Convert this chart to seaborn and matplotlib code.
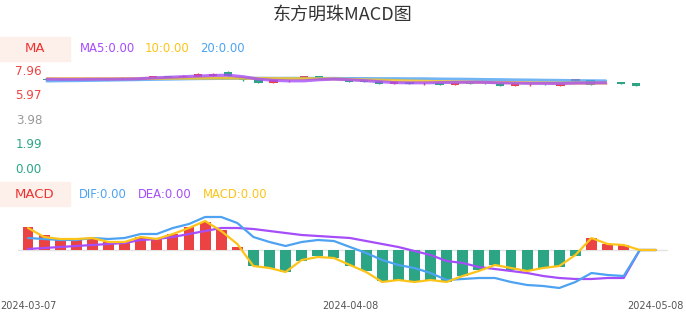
import numpy as np
import pandas as pd
import matplotlib
matplotlib.use("Agg")
import matplotlib.pyplot as plt
from matplotlib.patches import Rectangle
import seaborn as sns

# ---------------- data ----------------
dates = ["2024-03-07", "2024-04-08", "2024-05-08"]
date_idx = [0, 20, 39]

opens  = [7.35, 7.25, 7.28, 7.30, 7.28, 7.32, 7.30, 7.40, 7.55, 7.44,
          7.50, 7.52, 7.90, 7.36, 7.30, 7.00, 7.14, 7.40, 7.52, 7.35,
          7.22, 7.20, 7.14, 6.92, 7.06, 6.95, 6.98, 6.85, 6.95, 6.93,
          6.98, 6.76, 6.88, 6.90, 6.76, 7.14, 7.22, 6.96, 7.04, 6.96]
closes = [7.22, 7.28, 7.30, 7.28, 7.32, 7.30, 7.35, 7.52, 7.42, 7.58,
          7.68, 7.75, 7.52, 7.20, 6.98, 7.28, 7.15, 7.52, 7.40, 7.33,
          7.06, 7.08, 6.92, 7.14, 6.92, 6.97, 6.84, 6.98, 6.93, 6.90,
          6.76, 6.98, 6.92, 6.88, 6.88, 7.30, 6.84, 7.00, 6.92, 6.76]
highs  = [7.38, 7.32, 7.33, 7.34, 7.35, 7.50, 7.37, 7.54, 7.57, 7.60,
          7.78, 7.78, 7.96, 7.40, 7.32, 7.32, 7.20, 7.54, 7.55, 7.37,
          7.24, 7.22, 7.16, 7.16, 7.08, 7.06, 7.00, 7.00, 6.97, 6.95,
          7.00, 7.00, 6.98, 6.92, 6.90, 7.32, 7.24, 7.02, 7.06, 6.98]
lows   = [7.20, 7.22, 7.25, 7.26, 7.27, 7.28, 7.29, 7.38, 7.40, 7.42,
          7.48, 7.50, 7.50, 7.15, 6.95, 6.95, 7.08, 7.38, 7.38, 7.31,
          7.04, 7.06, 6.90, 6.90, 6.90, 6.84, 6.82, 6.83, 6.91, 6.88,
          6.74, 6.74, 6.76, 6.86, 6.74, 7.12, 6.82, 6.94, 6.90, 6.74]

ma5  = [7.30, 7.29, 7.29, 7.30, 7.30, 7.31, 7.33, 7.40, 7.45, 7.50,
        7.55, 7.60, 7.62, 7.50, 7.30, 7.20, 7.16, 7.16, 7.25, 7.30,
        7.25, 7.18, 7.10, 7.02, 7.00, 7.00, 7.02, 7.04, 7.05, 7.04,
        7.00, 6.98, 6.96, 6.96, 6.95, 6.98, 6.99, 7.00, np.nan, np.nan]
ma10 = [7.34, 7.34, 7.34, 7.34, 7.34, 7.34, 7.35, 7.36, 7.37, 7.38,
        7.38, 7.39, 7.39, 7.38, 7.36, 7.35, 7.34, 7.34, 7.33, 7.32,
        7.28, 7.25, 7.22, 7.19, 7.16, 7.13, 7.10, 7.08, 7.06, 7.04,
        7.03, 7.02, 7.00, 6.99, 6.98, 6.98, 6.98, 6.98, np.nan, np.nan]
ma20 = [7.15, 7.17, 7.18, 7.20, 7.22, 7.24, 7.26, 7.28, 7.30, 7.32,
        7.34, 7.35, 7.36, 7.37, 7.37, 7.37, 7.37, 7.37, 7.36, 7.36,
        7.35, 7.35, 7.34, 7.34, 7.33, 7.33, 7.31, 7.30, 7.29, 7.27,
        7.26, 7.24, 7.23, 7.21, 7.20, 7.18, 7.17, 7.16, np.nan, np.nan]

hist = [0.115, 0.075, 0.06, 0.055, 0.06, 0.04, 0.04, 0.065, 0.06, 0.08,
        0.115, 0.14, 0.10, 0.015, -0.08, -0.09, -0.11, -0.055, -0.03, -0.04,
        -0.08, -0.105, -0.155, -0.15, -0.155, -0.15, -0.16, -0.13, -0.10, -0.075,
        -0.10, -0.105, -0.09, -0.085, -0.03, 0.06, 0.03, 0.025, 0.0, 0.0]
macd_line = [0.11, 0.065, 0.055, 0.055, 0.06, 0.04, 0.04, 0.065, 0.055, 0.08,
             0.11, 0.145, 0.095, 0.03, -0.08, -0.09, -0.11, -0.05, -0.035, -0.04,
             -0.075, -0.11, -0.16, -0.15, -0.16, -0.15, -0.16, -0.13, -0.105, -0.075,
             -0.09, -0.105, -0.09, -0.08, -0.025, 0.06, 0.03, 0.025, 0.0, 0.0]
dif = [0.06, 0.055, 0.05, 0.05, 0.06, 0.055, 0.06, 0.08, 0.08, 0.11,
       0.13, 0.165, 0.165, 0.135, 0.065, 0.04, 0.02, 0.04, 0.05, 0.045,
       0.015, -0.015, -0.05, -0.075, -0.09, -0.115, -0.15, -0.145, -0.14, -0.14,
       -0.16, -0.175, -0.18, -0.19, -0.16, -0.115, -0.125, -0.13, 0.0, 0.0]
dea = [0.005, 0.01, 0.015, 0.02, 0.025, 0.03, 0.035, 0.05, 0.055, 0.065,
       0.08, 0.095, 0.11, 0.11, 0.105, 0.095, 0.085, 0.075, 0.07, 0.065,
       0.06, 0.045, 0.03, 0.015, -0.005, -0.025, -0.055, -0.065, -0.085, -0.095,
       -0.105, -0.115, -0.13, -0.14, -0.145, -0.145, -0.14, -0.14, 0.0, 0.0]

price_ticks = [0.00, 1.99, 3.98, 5.97, 7.96]
price_tick_colors = ["#2ca585", "#2ca585", "#999999", "#ee4444", "#ee4444"]

# ---------------- style ----------------
sns.set_theme(style="white")
plt.rcParams['font.family'] = ['DejaVu Sans', 'Noto Sans CJK SC']

RED = "#eb4343"
GREEN = "#2ca585"
PURPLE = "#a64dfa"
YELLOW = "#fcc419"
BLUE = "#4da3f2"

W, H = 686, 320
fig = plt.figure(figsize=(W / 100, H / 100), dpi=100)


def rect(l, t, r, b):
    return [l / W, 1 - b / H, (r - l) / W, (b - t) / H]


def fx(x):
    return x / W


def fy(y):
    return 1 - y / H


n = len(closes)
idx = np.arange(n)

# ---------------- top: candles + MA ----------------
ax1 = fig.add_axes(rect(40, 65, 660, 172))
ax1.set_xlim(-0.464, 40.6)
ax1.set_ylim(-0.219, 8.446)
ax1.axis("off")

o = np.array(opens); c = np.array(closes)
hi = np.array(highs); lo = np.array(lows)
cols = [RED if cc >= oo else GREEN for oo, cc in zip(o, c)]
ax1.vlines(idx, lo, hi, colors=cols, lw=1, zorder=2)
ax1.bar(idx, np.maximum(np.abs(c - o), 0.02), bottom=np.minimum(o, c),
        width=0.55, color=cols, zorder=3, linewidth=0)

ma_df = pd.DataFrame({"i": idx, "MA5": ma5, "MA10": ma10, "MA20": ma20})
for name, col in [("MA20", BLUE), ("MA10", YELLOW), ("MA5", PURPLE)]:
    sns.lineplot(data=ma_df, x="i", y=name, ax=ax1, color=col, lw=2.2,
                 alpha=0.8, zorder=4, legend=False)
ax1.axis("off")

ytr = ax1.get_yaxis_transform()
for v, col in zip(price_ticks, price_tick_colors):
    ax1.text((42 - 40) / 620, v, f"{v:.2f}", transform=ytr, ha="right",
             va="center", color=col, fontsize=8.6)

# ---------------- bottom: MACD ----------------
ax2 = fig.add_axes(rect(15, 210, 670, 295))
ax2.set_xlim(-0.807, 39.876)
ax2.set_ylim(-0.225, 0.2)
ax2.axis("off")

ax2.axhline(0, xmin=(18 - 15) / 655, xmax=(667 - 15) / 655,
            color="#e3e3e3", lw=1, zorder=1)
h = np.array(hist)
hcols = [RED if v > 0 else GREEN for v in h]
ax2.bar(idx, h, width=0.68, color=hcols, zorder=2, linewidth=0)

m_df = pd.DataFrame({"i": idx, "DIF": dif, "DEA": dea, "MACD": macd_line})
for name, col in [("DEA", PURPLE), ("DIF", BLUE), ("MACD", YELLOW)]:
    sns.lineplot(data=m_df, x="i", y=name, ax=ax2, color=col, lw=1.6,
                 zorder=3, legend=False)
ax2.axis("off")

xtr = ax2.get_xaxis_transform()
for d, i in zip(dates, date_idx):
    ax2.text(i, (295 - 306) / 85, d, transform=xtr, ha="center",
             va="center", color="#555555", fontsize=7)

# ---------------- titles / legends ----------------
fig.text(fx(343), fy(15), "东方明珠MACD图", ha="center", va="center",
         fontsize=13, color="#333333", family=['Noto Sans CJK SC', 'DejaVu Sans'])

for top, label in [(37, "MA"), (182, "MACD")]:
    fig.patches.append(Rectangle((fx(0), fy(top + 24)), 70 / W, 24 / H,
                                 transform=fig.transFigure, color="#fdf0ea",
                                 zorder=0))
    fig.text(fx(35), fy(top + 12), label, ha="center", va="center",
             color="#ee3333", fontsize=9.5)

for x, s, col in [(80, "MA5:0.00", PURPLE), (145, "10:0.00", YELLOW),
                  (200, "20:0.00", BLUE)]:
    fig.text(fx(x), fy(49), s, ha="left", va="center", color=col, fontsize=8.4)

for x, s, col in [(79, "DIF:0.00", BLUE), (138, "DEA:0.00", PURPLE),
                  (203, "MACD:0.00", YELLOW)]:
    fig.text(fx(x), fy(194), s, ha="left", va="center", color=col, fontsize=8.4)

fig.savefig("out.png", dpi=100)
